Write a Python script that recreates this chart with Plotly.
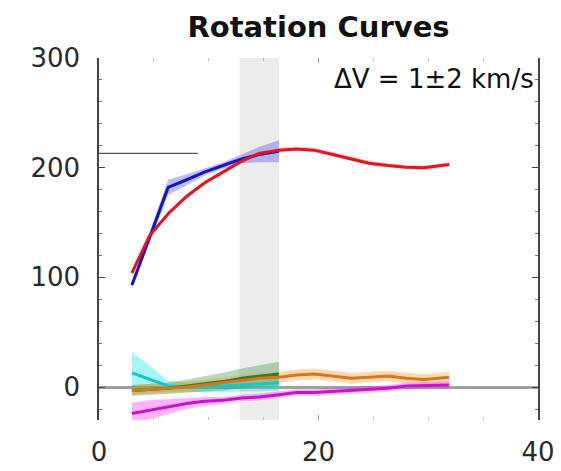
import plotly.graph_objects as go

# ---- data ----
R_inner = [3.0, 4.6, 6.3, 8.0, 9.6, 11.3, 13.0, 14.6, 16.4]
R_outer = [3.0, 4.6, 6.3, 8.0, 9.6, 11.3, 13.0, 14.6, 16.4, 18.0, 19.6,
           21.3, 23.0, 24.6, 26.3, 28.0, 29.6, 31.9]

v_blue = [93, 136, 182, 189, 196, 202, 208, 212, 215]
e_blue = [3, 5, 7, 5, 3, 3, 4, 7, 10]

v_red = [104, 138, 158, 174, 186, 196, 206, 213, 216, 217, 216,
         212, 208, 204, 202, 200.5, 200, 203]
e_red = [2] * 18

v_cyan = [13, 7, 1, 0, 0, 1, 2, 3, 4]
e_cyan = [19, 12, 5, 4, 5, 6, 6, 7, 7]

v_green = [-3, -2, -1, 1, 3, 5, 8, 10, 12]
e_green = [5, 5, 5, 6, 7, 8, 9, 10, 11]

v_orange = [-3, -2, -1, 0, 2, 4, 6, 8, 9, 11, 12, 10, 8, 9, 10, 8, 7, 9]
e_orange = [5] * 18

v_magenta = [-24, -21, -18, -15, -13, -12, -10, -9, -7, -5, -5,
             -4, -3, -2, -1, 1, 1.5, 2]
e_magenta = [10, 9, 7, 5, 4, 3, 3, 3, 3, 3, 3, 3, 3, 3, 3, 3, 3, 3]

band_x = [12.8, 16.4]          # shaded radial range
ref_x = [0, 9.0]               # short reference line
ref_v = [213, 213]

x_ticks = [0, 20, 40]
y_ticks = [0, 100, 200, 300]

FONT = "DejaVu Sans"

series = [
    (R_inner, v_cyan, e_cyan, "#12c8c8", "rgba(0,230,230,0.35)"),
    (R_inner, v_green, e_green, "#2e7d2e", "rgba(50,150,60,0.35)"),
    (R_outer, v_orange, e_orange, "#d9751a", "rgba(255,150,50,0.35)"),
    (R_outer, v_magenta, e_magenta, "#c416c8", "rgba(255,40,255,0.35)"),
    (R_inner, v_blue, e_blue, "#1414c8", "rgba(90,90,230,0.4)"),
    (R_outer, v_red, e_red, "#e3141e", "rgba(255,60,60,0.25)"),
]

fig = go.Figure()

# error bands
for xs, vs, es, lc, fc in series:
    upper = [v + e for v, e in zip(vs, es)]
    lower = [v - e for v, e in zip(vs, es)]
    fig.add_trace(go.Scatter(
        x=list(xs) + list(xs)[::-1], y=upper + lower[::-1],
        fill="toself", fillcolor=fc, line=dict(width=0),
        mode="lines", hoverinfo="skip", showlegend=False))

# reference line
fig.add_trace(go.Scatter(x=ref_x, y=ref_v, mode="lines",
                         line=dict(color="#555555", width=1.2),
                         showlegend=False))

# curves
for xs, vs, es, lc, fc in series:
    fig.add_trace(go.Scatter(x=xs, y=vs, mode="lines",
                             line=dict(color=lc, width=3),
                             showlegend=False))

fig.add_shape(type="rect", xref="x", yref="paper",
              x0=band_x[0], x1=band_x[1], y0=0, y1=1,
              fillcolor="#ececec", line=dict(width=0), layer="below")

fig.add_annotation(text="\u0394V = 1\u00b12 km/s", xref="paper", yref="paper",
                   x=0.995, y=0.943, xanchor="right", yanchor="middle",
                   showarrow=False, font=dict(family=FONT, size=26, color="#111111"))

fig.update_layout(
    width=561, height=471,
    margin=dict(l=91, r=31, t=50, b=50),
    paper_bgcolor="white", plot_bgcolor="white",
    title=dict(text="<b>Rotation Curves</b>", x=0.5535, xanchor="center",
               y=0.96, yanchor="middle", yref="container",
               font=dict(family=FONT, size=29, color="#111111")),
    font=dict(family=FONT, size=26, color="#2a2a2a"),
)

fig.update_xaxes(range=[0, 40], tickvals=x_ticks, showline=False,
                 showgrid=False, zeroline=False,
                 ticks="inside", ticklen=5, tickcolor="#999999", tickwidth=1,
                 mirror="ticks", ticklabelstandoff=14,
                 minor=dict(dtick=5, ticks="inside", ticklen=3,
                            tickcolor="#bbbbbb", showgrid=False))
fig.update_yaxes(range=[-30, 300], tickvals=y_ticks, showline=True,
                 linecolor="#444444", linewidth=1.5, mirror="ticks",
                 showgrid=False, zeroline=True, zerolinecolor="#a0a0a0",
                 zerolinewidth=2.5,
                 ticks="inside", ticklen=6, tickcolor="#444444", tickwidth=1.2,
                 ticklabelstandoff=12,
                 minor=dict(dtick=20, ticks="inside", ticklen=3,
                            tickcolor="#777777", showgrid=False))

fig.write_html("out.html")
